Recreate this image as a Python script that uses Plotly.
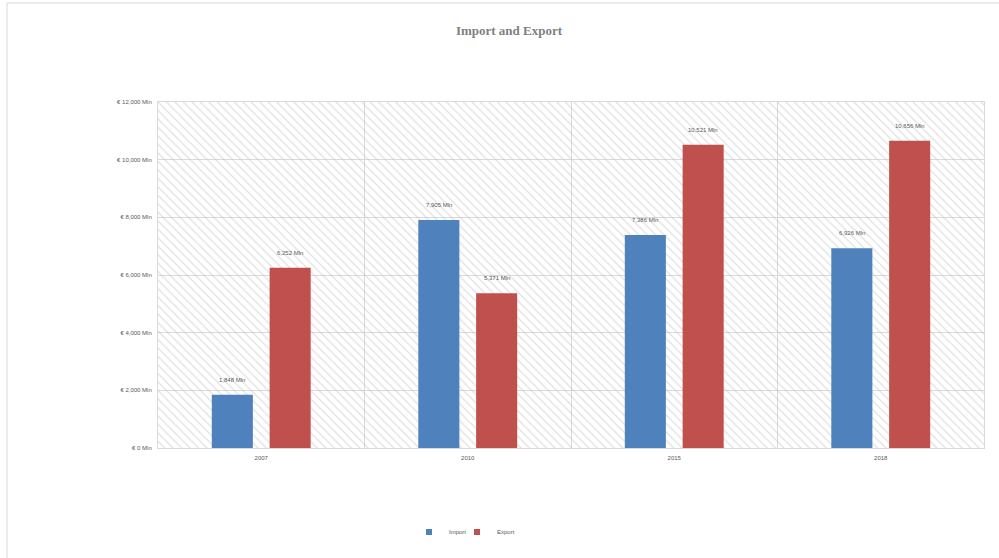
import plotly.graph_objects as go

years = ["2007", "2010", "2015", "2018"]
import_vals = [1848, 7905, 7386, 6926]
export_vals = [6252, 5371, 10521, 10656]
y_ticks = [0, 2000, 4000, 6000, 8000, 10000, 12000]

blue = "#4F81BD"
red = "#C0504D"
grid = "#D9D9D9"
txt = "#595959"
font_fam = "Liberation Sans"

xpos = list(range(len(years)))
xmin, xmax = -0.5, len(years) - 0.5
ymin, ymax = 0, 12000

fig = go.Figure()

# hatched plot-area background (on base axes, drawn beneath the overlay axes holding bars)
fig.add_trace(go.Scatter(
    x=[0, 1, 1, 0, 0], y=[0, 0, 1, 1, 0], xaxis="x", yaxis="y",
    mode="lines", line=dict(width=0), fill="toself", fillcolor="rgba(0,0,0,0)",
    fillpattern=dict(shape="\\", size=6, solidity=0.22, fgcolor="#C4C4C4", bgcolor="rgba(0,0,0,0)"),
    hoverinfo="skip", showlegend=False))

fig.add_trace(go.Bar(name="Import", x=xpos, y=import_vals, xaxis="x2", yaxis="y2",
                     marker=dict(color=blue, line=dict(width=0)), showlegend=False))
fig.add_trace(go.Bar(name="Export", x=xpos, y=export_vals, xaxis="x2", yaxis="y2",
                     marker=dict(color=red, line=dict(width=0)), showlegend=False))

# legend entries with small square markers
for nm, col, lg in [("Import", blue, "legend"), ("Export", red, "legend2")]:
    fig.add_trace(go.Scatter(name=nm, x=[None], y=[None], xaxis="x2", yaxis="y2", mode="markers",
                             legend=lg, marker=dict(symbol="square", size=6, color=col)))

def fmt(v):
    return f"{v:,} Mln"

for i, (a, b) in enumerate(zip(import_vals, export_vals)):
    for val, off in [(a, -0.14), (b, 0.14)]:
        fig.add_annotation(x=i + off, y=val, xref="x2", yref="y2", text=fmt(val), showarrow=False,
                           yshift=15, font=dict(size=6, color=txt, family=font_fam))

leg_common = dict(orientation="h", yanchor="middle", y=(448 - 532) / 346, xanchor="left",
                  font=dict(size=6, color=txt, family=font_fam), itemwidth=30,
                  bgcolor="rgba(0,0,0,0)")

fig.update_layout(
    width=999, height=558,
    margin=dict(l=158, r=15, t=102, b=110),
    paper_bgcolor="white", plot_bgcolor="white",
    barmode="group", bargap=0.44, bargroupgap=0.29,
    title=dict(text="<b>Import and Export</b>", x=(509 - 158) / 826, xref="paper", xanchor="center",
               y=1 - 30 / 558, yanchor="middle",
               font=dict(family="Liberation Serif", size=13, color="#7F7F7F")),
    xaxis=dict(range=[0, 1], visible=False, fixedrange=True),
    yaxis=dict(range=[0, 1], visible=False, fixedrange=True),
    xaxis2=dict(overlaying="x", anchor="y2", range=[xmin, xmax], tickmode="array", tickvals=xpos, ticktext=years,
                showgrid=False, zeroline=False, showline=True, linecolor=grid, mirror=True,
                ticks="", ticklabelstandoff=4, tickfont=dict(size=6, color=txt, family=font_fam),
                minor=dict(tickmode="array", tickvals=[i + 0.5 for i in xpos[:-1]], showgrid=True,
                           gridcolor=grid, gridwidth=1, ticks="")),
    yaxis2=dict(overlaying="y", anchor="x2", range=[ymin, ymax], tickmode="array", tickvals=y_ticks,
                ticktext=[f"€ {v:,} Mln" for v in y_ticks],
                showgrid=True, gridcolor=grid, gridwidth=1, zeroline=False,
                showline=True, linecolor=grid, mirror=True, ticks="", ticklabelstandoff=4,
                tickfont=dict(size=6, color=txt, family=font_fam)),
    legend=dict(x=(427 - 158 - 18) / 826, **leg_common),
    legend2=dict(x=(475 - 158 - 18) / 826, **leg_common),
    shapes=[dict(type="rect", xref="paper", yref="paper",
                 x0=(7 - 158) / 826, x1=(1010 - 158) / 826,
                 y0=(448 - 570) / 346, y1=(448 - 3) / 346,
                 line=dict(color=grid, width=1), fillcolor="rgba(0,0,0,0)", layer="below")],
)

fig.write_html("out.html")
